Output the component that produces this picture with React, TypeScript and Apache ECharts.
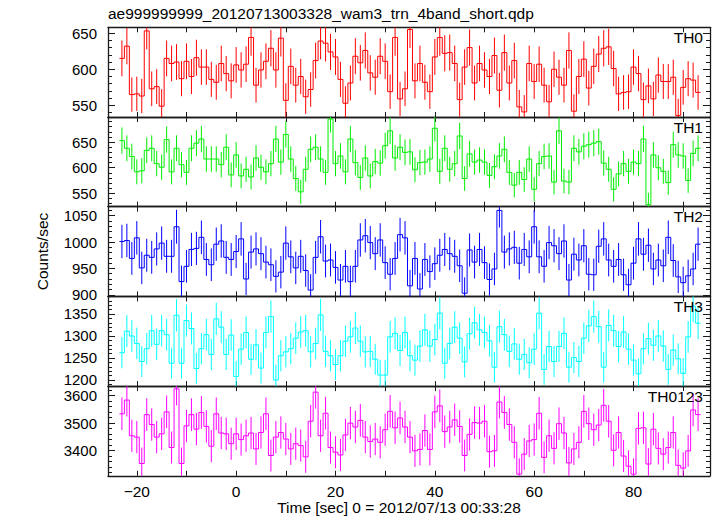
import React, { useEffect, useRef } from "react";
import * as echarts from "echarts";

const TITLE = "ae999999999_20120713003328_wam3_trn_4band_short.qdp";
const X_TITLE = "Time [sec] 0 = 2012/07/13 00:33:28";
const Y_TITLE = "Counts/sec";
const PANEL_NAMES = ["TH0", "TH1", "TH2", "TH3", "TH0123"];
const COLORS = ["#ff0000", "#00ee00", "#0000ff", "#00ffff", "#ff00ff"];

// first bin centre (s); bins are 1 s wide
const T_START = -23;
const X_RANGE = [-25.8, 95.4];
const X_TICKS = [-20, -10, 0, 10, 20, 30, 40, 50, 60, 70, 80, 90];
const X_LABELS = [-20, 0, 20, 40, 60, 80];

const TH0 = [615,632,565,566,563,653,573,576,549,615,608,610,587,611,590,616,603,603,586,582,608,594,584,606,599,607,644,578,599,611,629,599,643,557,604,578,
  590,562,572,612,639,636,624,617,586,553,581,618,609,626,595,589,618,611,569,644,559,573,655,584,608,582,569,617,644,622,623,608,558,603,630,581,608,599,590,619,571,
  623,581,612,548,541,608,583,607,578,555,600,589,578,626,542,590,614,574,604,621,629,631,601,566,568,569,603,594,558,577,559,592,583,583,589,536,575,587,585,568];
const TH1 = [653,638,622,592,594,634,638,608,601,655,592,638,606,591,638,648,656,617,617,617,606,640,586,625,584,597,582,619,601,592,608,656,611,665,617,579,
  553,597,636,640,617,591,695,608,623,592,656,610,581,619,584,612,609,643,672,619,640,630,631,596,610,611,617,677,593,638,597,608,662,579,627,611,615,611,585,602,623,
  636,591,566,591,577,617,558,608,622,623,572,672,574,572,638,631,642,645,648,651,609,597,558,588,608,593,611,608,656,528,625,600,593,571,645,625,623,575,628,638];
const TH2 = [1001,1003,969,1008,951,975,971,987,998,973,973,1029,925,954,986,988,1009,967,957,996,
  1002,971,967,982,1006,930,981,987,978,962,957,935,943,998,972,951,973,946,909,971,
  1010,964,966,952,928,954,925,954,1004,1012,999,978,1004,961,939,969,1014,1008,917,969,
  911,967,944,959,975,986,978,973,955,903,985,962,986,961,929,949,1060,981,987,990,
  960,986,972,1029,972,954,999,993,978,1002,928,977,966,993,939,938,992,1006,966,954,
  967,938,919,960,1006,977,994,949,966,955,1009,965,934,923,936,949,996];
const TH3 = [1262,1311,1300,1283,1242,1271,1312,1281,1312,1303,1238,1347,1238,1335,1317,1226,1271,1303,1258,1339,
  1320,1258,1302,1208,1270,1308,1247,1280,1227,1308,1344,1200,1255,1264,1271,1295,1309,1312,1264,1283,
  1348,1265,1255,1235,1255,1288,1298,1318,1288,1264,1265,1247,1211,1211,1298,1306,1267,1308,1255,1245,
  1277,1314,1277,1292,1352,1238,1283,1320,1295,1241,1305,1330,1314,1308,1289,1229,1321,1303,1265,1282,
  1247,1258,1239,1270,1352,1224,1276,1242,1276,1306,1229,1251,1242,1295,1323,1344,1321,1229,1324,1312,
  1276,1309,1270,1245,1214,1271,1294,1279,1300,1277,1224,1268,1248,1215,1298,1368,1329];
const TH0123 = [3534,3584,3454,3449,3353,3531,3495,3449,3461,3541,3411,3625,3353,3490,3531,3478,3539,3488,3416,3534,
  3464,3461,3425,3461,3440,3454,3464,3406,3466,3534,3382,3449,3466,3442,3406,3425,3418,3377,3507,3613,
  3454,3536,3411,3394,3384,3457,3500,3486,3510,3449,3433,3442,3430,3476,3543,3483,3519,3486,3449,3399,
  3404,3473,3404,3541,3563,3469,3486,3512,3488,3382,3459,3502,3500,3507,3396,3399,3577,3539,3495,3430,
  3314,3387,3435,3440,3536,3375,3454,3408,3498,3464,3355,3406,3430,3543,3498,3476,3493,3565,3507,3401,
  3466,3380,3343,3314,3481,3483,3351,3478,3408,3387,3411,3466,3346,3336,3399,3548,3531];

const SERIES = [TH0, TH1, TH2, TH3, TH0123];
const Y_RANGES = [[534, 658], [524, 699], [897, 1067], [1186, 1390], [3308, 3635]];
const Y_LABELS = [[550, 600, 650], [550, 600, 650], [900, 950, 1000, 1050], [1200, 1250, 1300, 1350], [3400, 3500, 3600]];
const Y_MINOR_STEP = [10, 10, 10, 10, 20];

const FONT = "'Liberation Sans', Arial, Helvetica, sans-serif";
const FS = 15.5;
const FS_Y = 15;
const AXIS_COLOR = "#1a1a1a";

export default function App() {
  const ref = useRef<HTMLDivElement>(null);
  useEffect(() => {
    if (!ref.current) return;
    const chart = echarts.init(ref.current, null, { renderer: "svg" });
    const GL = 108, GR = 7, GT = 27.3, GH = 89.7;
    const grids: any[] = [];
    const xAxes: any[] = [];
    const yAxes: any[] = [];
    const series: any[] = [];
    const graphics: any[] = [];
    const line = { color: AXIS_COLOR, width: 1.3 };
    const tickLine = { color: AXIS_COLOR, width: 1 };
    SERIES.forEach((vals, i) => {
      const top = GT + i * GH;
      grids.push({ left: GL, right: GR, top, height: GH });
      ["bottom", "top"].forEach((pos) => {
        const showLab = pos === "bottom" && i === SERIES.length - 1;
        xAxes.push({
          gridIndex: i, type: "value", min: X_RANGE[0], max: X_RANGE[1], position: pos,
          axisLine: { show: true, onZero: false, lineStyle: line },
          axisTick: { show: true, inside: true, length: 5, customValues: X_TICKS, lineStyle: tickLine },
          axisLabel: showLab ? {
            show: true, customValues: X_LABELS, margin: 8, fontSize: FS, fontFamily: FONT, color: "#000",
            formatter: (v: number) => String(v).replace("-", "\u2212"),
          } : { show: false },
          splitLine: { show: false },
        });
      });
      const [mn, mx] = Y_RANGES[i];
      const majors = Y_LABELS[i];
      const step = Y_MINOR_STEP[i];
      const minors: number[] = [];
      for (let v = Math.ceil(mn / step) * step; v <= mx; v += step) {
        if (!majors.includes(v)) minors.push(v);
      }
      ["left", "right"].forEach((pos) => {
        yAxes.push({
          gridIndex: i, type: "value", min: mn, max: mx, position: pos,
          axisLine: { show: true, onZero: false, lineStyle: line },
          axisTick: { show: true, inside: true, length: 7, customValues: majors, lineStyle: tickLine },
          axisLabel: pos === "left" ? {
            show: true, customValues: majors, margin: 11, fontSize: FS_Y, lineHeight: 13, fontFamily: FONT, color: "#000",
            formatter: (v: number) => String(v),
          } : { show: false },
          splitLine: { show: false },
        });
        yAxes.push({
          gridIndex: i, type: "value", min: mn, max: mx, position: pos,
          axisLine: { show: false, onZero: false },
          axisTick: { show: true, inside: true, length: 4, customValues: minors, lineStyle: tickLine },
          axisLabel: { show: false },
          splitLine: { show: false },
        });
      });
      const color = COLORS[i];
      const data = vals.map((v, k) => [T_START + k, v, k > 0 ? vals[k - 1] : v, Math.sqrt(v)]);
      series.push({
        type: "custom",
        xAxisIndex: i * 2,
        yAxisIndex: i * 4,
        data,
        encode: { x: 0, y: 1 },
        renderItem: (params: any, api: any) => {
          const t = api.value(0), v = api.value(1), pv = api.value(2), e = api.value(3);
          const cs = params.coordSys;
          const clampY = (y: number) => Math.max(cs.y, Math.min(cs.y + cs.height, y));
          const a = api.coord([t - 0.5, v]);
          const b = api.coord([t + 0.5, v]);
          const c = api.coord([t - 0.5, pv]);
          const hi = api.coord([t, v + e]);
          const lo = api.coord([t, v - e]);
          const style = { stroke: color, lineWidth: 1, fill: null };
          return {
            type: "group",
            children: [
              { type: "line", shape: { x1: a[0], y1: clampY(a[1]), x2: b[0], y2: clampY(b[1]) }, style },
              { type: "line", shape: { x1: a[0], y1: clampY(c[1]), x2: a[0], y2: clampY(a[1]) }, style },
              { type: "line", shape: { x1: hi[0], y1: clampY(hi[1]), x2: lo[0], y2: clampY(lo[1]) }, style },
            ],
          };
        },
      });
      graphics.push({
        type: "text", x: 703, y: top + 10,
        style: { text: PANEL_NAMES[i], fontSize: FS, fontFamily: FONT, fill: "#000", align: "right", verticalAlign: "middle" },
        z: 10,
      });
    });
    graphics.push({
      type: "text", x: 108, y: 13,
      style: { text: TITLE, fontSize: FS, fontFamily: FONT, fill: "#000", align: "left", verticalAlign: "middle" },
    });
    graphics.push({
      type: "text", x: 399, y: 507.5,
      style: { text: X_TITLE, fontSize: FS, fontFamily: FONT, fill: "#000", align: "center", verticalAlign: "middle" },
    });
    graphics.push({
      type: "text", x: 42, y: 251.5, rotation: Math.PI / 2,
      style: { text: Y_TITLE, fontSize: FS, fontFamily: FONT, fill: "#000", align: "center", verticalAlign: "middle" },
    });
    chart.setOption({
      animation: false,
      backgroundColor: "#fff",
      grid: grids,
      xAxis: xAxes,
      yAxis: yAxes,
      series,
      graphic: graphics,
    });
    return () => chart.dispose();
  }, []);
  return <div ref={ref} style={{ width: 717, height: 516, position: "absolute", left: 0, top: 0 }} />;
}
